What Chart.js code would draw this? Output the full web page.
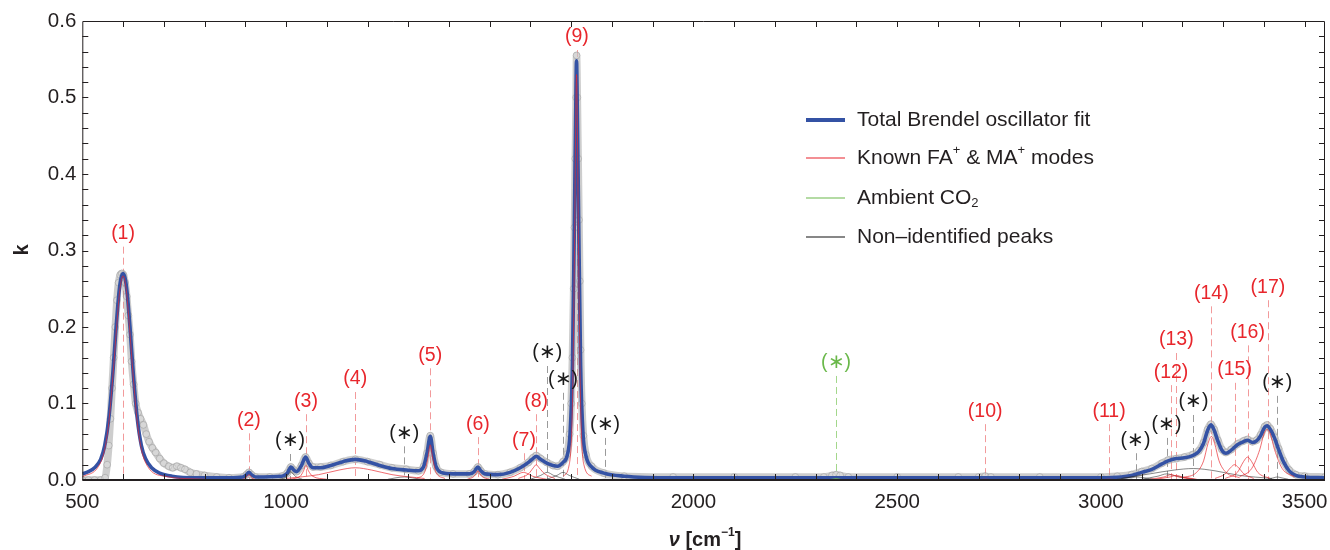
<!DOCTYPE html>
<html>
<head>
<meta charset="utf-8">
<title>Brendel oscillator fit of k</title>
<script src="https://cdn.jsdelivr.net/npm/chart.js@4/dist/chart.umd.min.js"></script>
<style>
  html, body { margin: 0; padding: 0; background: #ffffff; }
  #wrap { width: 1330px; height: 550px; }
</style>
</head>
<body>
<div id="wrap"><canvas id="c" width="1330" height="550"></canvas></div>
<script>
// ---- tick labels ----
const xTickLabels = [500, 1000, 1500, 2000, 2500, 3000, 3500];
const yTickLabels = [0, 0.1, 0.2, 0.3, 0.4, 0.5, 0.6];

// ---- measured extinction coefficient k (wavenumber, k) ----
const dataWn = [500,515,530,545,556,561,565,569,573,577,581,585,589,593,597,601,605,609,613,617,621,626,631,637,643,650,657,664,672,680,690,700,712,722,732,742,752,765,780,800,830,860,895,903,909,915,925,960,990,1003,1012,1019,1026,1038,1048,1056,1066,1085,1110,1140,1170,1200,1230,1260,1295,1325,1338,1346,1354,1361,1368,1380,1410,1450,1462,1471,1478,1488,1520,1550,1575,1595,1606,1614,1625,1640,1655,1666,1680,1690,1696,1700,1703,1706,1708,1710,1712,1713,1715,1717,1719,1721,1723,1726,1730,1736,1750,1780,1830,1950,2100,2250,2320,2340,2350,2360,2380,2500,2650,2700,2716,2730,2850,3000,3040,3075,3100,3125,3150,3165,3185,3205,3225,3240,3252,3262,3270,3278,3287,3297,3307,3320,3335,3350,3360,3372,3382,3392,3402,3408,3416,3426,3436,3448,3462,3478,3500,3550];
const dataK  = [0.000,0.000,0.000,0.000,0.003,0.020,0.045,0.080,0.120,0.160,0.200,0.235,0.258,0.268,0.270,0.268,0.258,0.240,0.215,0.190,0.155,0.125,0.100,0.088,0.080,0.072,0.060,0.050,0.042,0.036,0.028,0.022,0.018,0.016,0.018,0.016,0.014,0.010,0.008,0.006,0.004,0.003,0.004,0.007,0.010,0.007,0.004,0.004,0.005,0.009,0.017,0.013,0.011,0.019,0.030,0.022,0.017,0.017,0.019,0.024,0.027,0.024,0.020,0.016,0.014,0.012,0.018,0.035,0.058,0.035,0.018,0.010,0.008,0.008,0.011,0.017,0.012,0.008,0.007,0.010,0.016,0.023,0.029,0.032,0.028,0.023,0.019,0.018,0.024,0.034,0.060,0.100,0.160,0.250,0.330,0.420,0.500,0.555,0.500,0.420,0.340,0.260,0.170,0.100,0.058,0.033,0.018,0.009,0.005,0.004,0.004,0.004,0.004,0.006,0.007,0.006,0.004,0.004,0.004,0.004,0.005,0.004,0.004,0.004,0.005,0.007,0.011,0.015,0.022,0.026,0.028,0.030,0.033,0.038,0.049,0.066,0.073,0.066,0.052,0.040,0.036,0.040,0.047,0.051,0.053,0.050,0.052,0.059,0.070,0.072,0.067,0.056,0.041,0.025,0.013,0.007,0.005,0.004];

// ---- total Brendel oscillator fit ----
const fitWn = [500,515,530,545,555,565,575,583,590,595,600,605,610,617,625,635,645,655,670,690,720,780,860,895,903,909,915,925,990,1003,1012,1019,1026,1038,1048,1056,1066,1085,1110,1140,1170,1200,1230,1260,1295,1325,1338,1346,1354,1361,1368,1380,1410,1450,1462,1471,1478,1488,1520,1550,1575,1595,1606,1614,1625,1640,1655,1666,1680,1690,1697,1703,1708,1711,1713,1715,1718,1723,1729,1736,1750,1780,1830,1950,2300,2350,2400,2700,3000,3050,3075,3100,3125,3150,3165,3185,3205,3225,3240,3252,3262,3270,3278,3287,3297,3307,3320,3335,3350,3360,3372,3382,3392,3402,3408,3416,3426,3436,3448,3462,3478,3500,3550];
const fitK  = [0.008,0.011,0.016,0.027,0.045,0.080,0.140,0.200,0.245,0.264,0.270,0.264,0.245,0.200,0.140,0.080,0.045,0.028,0.016,0.009,0.005,0.003,0.003,0.004,0.007,0.010,0.007,0.004,0.005,0.009,0.017,0.013,0.011,0.019,0.030,0.022,0.016,0.016,0.019,0.024,0.027,0.024,0.019,0.015,0.013,0.012,0.018,0.035,0.057,0.035,0.018,0.010,0.008,0.008,0.011,0.017,0.012,0.008,0.007,0.010,0.016,0.023,0.028,0.031,0.027,0.022,0.019,0.018,0.023,0.032,0.060,0.150,0.350,0.480,0.548,0.480,0.350,0.150,0.060,0.032,0.017,0.009,0.005,0.003,0.003,0.003,0.003,0.003,0.003,0.004,0.006,0.010,0.014,0.021,0.025,0.028,0.029,0.032,0.037,0.048,0.065,0.072,0.065,0.051,0.039,0.035,0.039,0.046,0.050,0.052,0.049,0.051,0.058,0.069,0.071,0.066,0.055,0.040,0.024,0.012,0.006,0.004,0.003];

// ---- individual oscillators: known FA+ / MA+ modes ----
const knownModes = [
  [[500,0.004],[540,0.018],[555,0.040],[565,0.075],[575,0.135],[585,0.205],[592,0.248],[600,0.267],[608,0.248],[615,0.205],[625,0.135],[635,0.075],[645,0.040],[660,0.018],[700,0.005],[800,0.001]],
  [[880,0.000],[900,0.002],[909,0.007],[918,0.002],[940,0.000]],
  [[1010,0.001],[1035,0.005],[1043,0.012],[1049,0.019],[1055,0.012],[1065,0.005],[1100,0.001]],
  [[1000,0.002],[1080,0.007],[1130,0.013],[1170,0.016],[1210,0.013],[1260,0.007],[1340,0.002]],
  [[1320,0.002],[1340,0.010],[1348,0.028],[1354,0.046],[1360,0.028],[1368,0.010],[1390,0.002]],
  [[1445,0.001],[1462,0.005],[1467,0.009],[1471,0.012],[1475,0.009],[1480,0.005],[1500,0.001]],
  [[1530,0.001],[1560,0.005],[1575,0.009],[1582,0.010],[1590,0.009],[1605,0.005],[1640,0.001]],
  [[1570,0.002],[1595,0.008],[1607,0.016],[1614,0.020],[1621,0.016],[1635,0.008],[1660,0.002]],
  [[1680,0.005],[1695,0.020],[1703,0.100],[1708,0.300],[1713,0.530],[1718,0.300],[1723,0.100],[1731,0.020],[1750,0.005]],
  [[2690,0.000],[2716,0.001],[2740,0.000]],
  [[2990,0.000],[3020,0.001],[3050,0.000]],
  [[3120,0.001],[3155,0.004],[3172,0.007],[3190,0.004],[3225,0.001]],
  [[3135,0.001],[3170,0.004],[3185,0.006],[3200,0.004],[3235,0.001]],
  [[3200,0.003],[3235,0.010],[3252,0.025],[3263,0.048],[3271,0.057],[3279,0.048],[3290,0.025],[3307,0.010],[3340,0.003]],
  [[3280,0.002],[3305,0.008],[3318,0.016],[3328,0.020],[3338,0.016],[3351,0.008],[3375,0.002]],
  [[3305,0.002],[3335,0.010],[3350,0.024],[3360,0.030],[3370,0.024],[3385,0.010],[3415,0.002]],
  [[3340,0.004],[3370,0.015],[3390,0.040],[3400,0.060],[3408,0.066],[3416,0.060],[3426,0.040],[3445,0.015],[3475,0.004]]
];

// ---- ambient CO2 ----
const co2Modes = [
  [[2320,0.000],[2340,0.001],[2350,0.002],[2360,0.001],[2380,0.000]]
];

// ---- non-identified peaks ----
const unknownPeaks = [
  [[985,0.001],[1000,0.004],[1007,0.008],[1012,0.011],[1017,0.008],[1025,0.004],[1040,0.001]],
  [[1250,0.001],[1290,0.004],[1330,0.001]],
  [[1600,0.001],[1625,0.006],[1641,0.010],[1657,0.006],[1685,0.001]],
  [[1640,0.001],[1665,0.006],[1680,0.010],[1695,0.006],[1720,0.001]],
  [[1760,0.000],[1783,0.001],[1810,0.000]],
  [[3040,0.001],[3085,0.004],[3130,0.001]],
  [[3100,0.001],[3140,0.005],[3161,0.008],[3185,0.005],[3230,0.001]],
  [[3050,0.002],[3120,0.008],[3180,0.013],[3227,0.015],[3280,0.012],[3340,0.006],[3420,0.002]],
  [[3410,0.001],[3425,0.003],[3433,0.004],[3442,0.003],[3460,0.001]]
];

// ---- peak assignment markers ----
const labelText = ['(1)','(2)','(∗)','(3)','(4)','(∗)','(5)','(6)','(7)','(8)','(∗)','(∗)','(9)','(∗)','(∗)','(10)','(11)','(∗)','(∗)','(12)','(13)','(∗)','(14)','(15)','(16)','(17)','(∗)'];
const labelWn   = [600,909,1010,1049,1170,1290,1354,1471,1584,1614,1641,1680,1714,1783,2350,2716,3020,3085,3161,3172,3185,3227,3271,3328,3360,3410,3433];
const labelK    = [0.322,0.078,0.051,0.103,0.132,0.061,0.163,0.073,0.052,0.103,0.166,0.131,0.579,0.072,0.153,0.090,0.090,0.052,0.072,0.141,0.183,0.102,0.244,0.144,0.193,0.252,0.127];
const labelKind = ['known','known','unknown','known','known','unknown','known','known','known','known','unknown','unknown','known','unknown','co2','known','known','unknown','unknown','known','known','unknown','known','known','known','known','unknown'];

const FONT = '"Liberation Sans", Arial, Helvetica, sans-serif';
const INK = '#231f20';
const BLUE = '#3452a4';
const RED = '#e8262c';
const GREEN = '#6ab84a';

const kindStyle = {
  known:   { text: RED,       dash: 'rgba(238,120,122,0.75)' },
  unknown: { text: '#1a1a1a', dash: 'rgba(120,120,120,0.75)' },
  co2:     { text: GREEN,     dash: 'rgba(140,205,110,0.8)' }
};

const pts = (xs, ys) => xs.map((x, i) => ({ x: x, y: ys[i] }));
const pairPts = p => p.map(([x, y]) => ({ x: x, y: y }));

const datasets = [];
knownModes.forEach(p => datasets.push({ data: pairPts(p), borderColor: 'rgba(232,38,44,0.85)', borderWidth: 0.8, pointRadius: 0, cubicInterpolationMode: 'monotone', order: 0 }));
co2Modes.forEach(p => datasets.push({ data: pairPts(p), borderColor: 'rgba(106,184,74,0.9)', borderWidth: 0.8, pointRadius: 0, cubicInterpolationMode: 'monotone', order: 0 }));
unknownPeaks.forEach(p => datasets.push({ data: pairPts(p), borderColor: 'rgba(40,40,40,0.8)', borderWidth: 0.7, pointRadius: 0, cubicInterpolationMode: 'monotone', order: 0 }));
datasets.push({ data: pts(fitWn, fitK), borderColor: BLUE, borderWidth: 3.6, pointRadius: 0, cubicInterpolationMode: 'monotone', order: 1 });
datasets.push({ data: pts(dataWn, dataK), borderColor: 'rgba(155,155,155,0.5)', borderWidth: 7.5, pointRadius: 3.4, pointBorderWidth: 1, pointBorderColor: 'rgba(160,160,160,0.6)', pointBackgroundColor: 'rgba(235,235,235,0.35)', cubicInterpolationMode: 'monotone', order: 2 });

function drawRich(ctx, parts, x, y, baseSize, bold) {
  let cx = x;
  const w = bold ? 'bold ' : '';
  for (const [t, mode, style] of parts) {
    const size = mode ? Math.round(baseSize * 0.62) : baseSize;
    ctx.font = (style || '') + ' ' + w + size + 'px ' + FONT;
    const dy = mode === 'sup' ? -baseSize * 0.38 : mode === 'sub' ? baseSize * 0.28 : 0;
    ctx.fillText(t, cx, y + dy);
    cx += ctx.measureText(t).width;
  }
  return cx - x;
}

const decor = {
  id: 'decor',
  beforeDatasetsDraw(chart) {
    const ctx = chart.ctx, xs = chart.scales.x, ys = chart.scales.y;
    ctx.save();
    ctx.lineWidth = 1;
    ctx.setLineDash([7, 4]);
    const y0 = ys.getPixelForValue(0);
    labelWn.forEach((wn, i) => {
      const px = Math.round(xs.getPixelForValue(wn)) + 0.5;
      const py = ys.getPixelForValue(labelK[i]) + 13;
      ctx.strokeStyle = kindStyle[labelKind[i]].dash;
      ctx.beginPath();
      ctx.moveTo(px, py);
      ctx.lineTo(px, y0);
      ctx.stroke();
    });
    ctx.restore();
  },
  afterDatasetsDraw(chart) {
    const ctx = chart.ctx, xs = chart.scales.x, ys = chart.scales.y;
    const { left, right, top, bottom } = chart.chartArea;
    ctx.save();

    // marker labels
    ctx.textAlign = 'center';
    ctx.textBaseline = 'middle';
    ctx.font = '19.5px ' + FONT;
    labelWn.forEach((wn, i) => {
      ctx.fillStyle = kindStyle[labelKind[i]].text;
      ctx.fillText(labelText[i], xs.getPixelForValue(wn), ys.getPixelForValue(labelK[i]));
    });

    // frame
    ctx.strokeStyle = INK;
    ctx.lineWidth = 1;
    ctx.beginPath();
    ctx.moveTo(left + 0.5, bottom);
    ctx.lineTo(left + 0.5, top + 0.5);
    ctx.lineTo(right - 0.5, top + 0.5);
    ctx.lineTo(right - 0.5, bottom);
    ctx.stroke();
    ctx.lineWidth = 2;
    ctx.beginPath();
    ctx.moveTo(left, bottom);
    ctx.lineTo(right, bottom);
    ctx.stroke();

    // inward ticks
    ctx.lineWidth = 1;
    ctx.beginPath();
    for (let v = 600; v <= 3500; v += 100) {
      const px = Math.round(xs.getPixelForValue(v)) + 0.5;
      ctx.moveTo(px, bottom); ctx.lineTo(px, bottom - 6);
      ctx.moveTo(px, top); ctx.lineTo(px, top + 6);
    }
    for (let j = 1; j < 30; j++) {
      const py = Math.round(ys.getPixelForValue(j * 0.02)) + 0.5;
      ctx.moveTo(left, py); ctx.lineTo(left + 6, py);
      ctx.moveTo(right, py); ctx.lineTo(right - 6, py);
    }
    ctx.stroke();

    // axis titles
    ctx.fillStyle = INK;
    ctx.textAlign = 'left';
    ctx.textBaseline = 'middle';
    ctx.save();
    ctx.translate(22, 250);
    ctx.rotate(-Math.PI / 2);
    ctx.font = 'bold 20px ' + FONT;
    ctx.textAlign = 'center';
    ctx.fillText('k', 0, 0);
    ctx.restore();

    const titleParts = [['ν', null, 'italic'], [' [cm'], ['−1', 'sup'], [']']];
    ctx.globalAlpha = 0;
    const tw = drawRich(ctx, titleParts, 0, -100, 20, true);
    ctx.globalAlpha = 1;
    drawRich(ctx, titleParts, 705 - tw / 2, 540, 20, true);

    // legend
    const lx0 = 806, lx1 = 845, tx = 857;
    const rows = [
      { y: 120, color: BLUE, width: 4, parts: [['Total Brendel oscillator fit']] },
      { y: 158, color: '#e8202a', width: 1.2, parts: [['Known FA'], ['+', 'sup'], [' & MA'], ['+', 'sup'], [' modes']] },
      { y: 198, color: GREEN, width: 1.2, parts: [['Ambient CO'], ['2', 'sub']] },
      { y: 237, color: '#111111', width: 1.2, parts: [['Non–identified peaks']] }
    ];
    rows.forEach(r => {
      ctx.strokeStyle = r.color;
      ctx.lineWidth = r.width;
      ctx.beginPath();
      ctx.moveTo(lx0, r.y);
      ctx.lineTo(lx1, r.y);
      ctx.stroke();
      ctx.fillStyle = INK;
      drawRich(ctx, r.parts, tx, r.y, 21, false);
    });
    ctx.restore();
  }
};

new Chart(document.getElementById('c'), {
  type: 'line',
  data: { datasets: datasets },
  plugins: [decor],
  options: {
    responsive: false,
    animation: false,
    devicePixelRatio: 1,
    layout: { padding: { left: 0, right: 5, top: 21, bottom: 0 } },
    plugins: { legend: { display: false }, tooltip: { enabled: false } },
    elements: { line: { tension: 0 } },
    scales: {
      x: {
        type: 'linear', min: 500, max: 3550,
        grid: { display: false, drawTicks: false },
        border: { display: false },
        afterBuildTicks: s => { s.ticks = xTickLabels.map(v => ({ value: v })); },
        afterFit: s => { s.height = 70; s.paddingLeft = 0; s.paddingRight = 0; },
        ticks: { color: INK, font: { size: 20.5, family: FONT }, padding: 10, maxRotation: 0, autoSkip: false, callback: v => String(v) }
      },
      y: {
        type: 'linear', min: 0, max: 0.6,
        grid: { display: false, drawTicks: false },
        border: { display: false },
        afterBuildTicks: s => { s.ticks = yTickLabels.map(v => ({ value: v })); },
        afterFit: s => { s.width = 82.3; s.paddingTop = 0; s.paddingBottom = 0; },
        ticks: { color: INK, font: { size: 20.5, family: FONT }, padding: 6, autoSkip: false, callback: v => Number(v).toFixed(1) }
      }
    }
  }
});
</script>
</body>
</html>
